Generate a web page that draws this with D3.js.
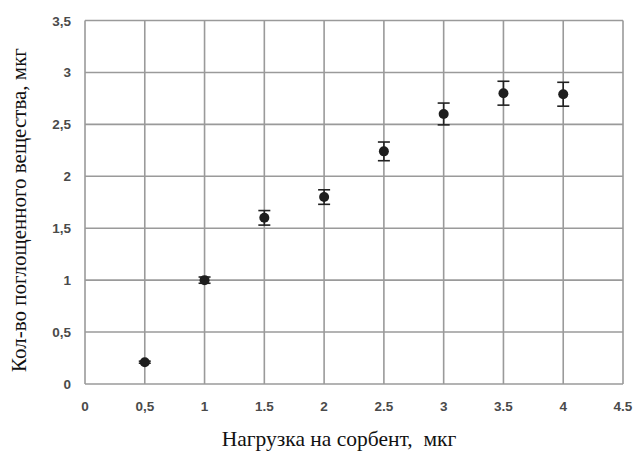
<!DOCTYPE html>
<html>
<head>
<meta charset="utf-8">
<script src="https://cdn.jsdelivr.net/npm/d3@7"></script>
<style>
  body { margin: 0; background: #fff; }
  svg text { font-family: "Liberation Sans", Arial, sans-serif; }
</style>
</head>
<body>
<svg id="chart" width="635" height="451"></svg>
<script>
// ---------------  DATA  ---------------
const loadX = [0.5, 1, 1.5, 2, 2.5, 3, 3.5, 4];
const absorbed = [0.21, 1.0, 1.6, 1.8, 2.24, 2.6, 2.8, 2.79];
const errors = [0.01, 0.03, 0.07, 0.07, 0.09, 0.105, 0.115, 0.115];
const xTicks = [0, 0.5, 1, 1.5, 2, 2.5, 3, 3.5, 4, 4.5];
const xTickLabels = ["0", "0,5", "1", "1.5", "2", "2.5", "3", "3.5", "4", "4.5"];
const yTicks = [0, 0.5, 1, 1.5, 2, 2.5, 3, 3.5];
const yTickLabels = ["0", "0,5", "1", "1,5", "2", "2,5", "3", "3,5"];

// ---------------  INIT  ---------------
const plotLeft = 85, plotRight = 623, plotTop = 20.5, plotBottom = 384;
const svg = d3.select("#chart");

const x = d3.scaleLinear().domain([0, 4.5]).range([plotLeft, plotRight]);
const y = d3.scaleLinear().domain([0, 3.5]).range([plotBottom, plotTop]);

// grid
svg.append("g")
  .selectAll("line")
  .data(xTicks)
  .enter()
  .append("line")
  .attr("x1", d => x(d)).attr("x2", d => x(d))
  .attr("y1", plotTop).attr("y2", plotBottom)
  .attr("stroke", "#9a9a9a").attr("stroke-width", 1.6);

svg.append("g")
  .selectAll("line")
  .data(yTicks)
  .enter()
  .append("line")
  .attr("y1", d => y(d)).attr("y2", d => y(d))
  .attr("x1", plotLeft).attr("x2", plotRight)
  .attr("stroke", "#9a9a9a").attr("stroke-width", 1.6);

// tick labels
svg.append("g")
  .selectAll("text")
  .data(xTicks)
  .enter()
  .append("text")
  .attr("x", d => x(d))
  .attr("y", 411)
  .attr("text-anchor", "middle")
  .attr("font-size", 13.5)
  .attr("font-weight", "bold")
  .attr("fill", "#4a4a4a")
  .text((d, i) => xTickLabels[i]);

svg.append("g")
  .selectAll("text")
  .data(yTicks)
  .enter()
  .append("text")
  .attr("x", 71)
  .attr("y", d => y(d) + 5)
  .attr("text-anchor", "end")
  .attr("font-size", 13.5)
  .attr("font-weight", "bold")
  .attr("fill", "#4a4a4a")
  .text((d, i) => yTickLabels[i]);

// ---------------  ERROR BARS + POINTS  ---------------
const pts = loadX.map((d, i) => ({ x: d, y: absorbed[i], e: errors[i] }));
const eb = svg.append("g").attr("stroke", "#222").attr("stroke-width", 1.6);
pts.forEach(p => {
  eb.append("line")
    .attr("x1", x(p.x)).attr("x2", x(p.x))
    .attr("y1", y(p.y - p.e)).attr("y2", y(p.y + p.e));
  [p.y - p.e, p.y + p.e].forEach(v => {
    eb.append("line")
      .attr("x1", x(p.x) - 6).attr("x2", x(p.x) + 6)
      .attr("y1", y(v)).attr("y2", y(v));
  });
});

svg.append("g")
  .selectAll("circle")
  .data(pts)
  .enter()
  .append("circle")
  .attr("cx", d => x(d.x))
  .attr("cy", d => y(d.y))
  .attr("r", 5)
  .attr("fill", "#1e1e1e");

// ---------------  AXIS TITLES  ---------------
svg.append("text")
  .attr("x", 339)
  .attr("y", 446)
  .attr("text-anchor", "middle")
  .attr("font-size", 21.5)
  .style("font-family", "'Liberation Serif', 'Times New Roman', serif")
  .style("white-space", "pre")
  .attr("fill", "#111")
  .text("Нагрузка на сорбент,  мкг");

svg.append("text")
  .attr("transform", "translate(26,210) rotate(-90)")
  .attr("text-anchor", "middle")
  .attr("font-size", 21)
  .style("font-family", "'Liberation Serif', 'Times New Roman', serif")
  .attr("fill", "#111")
  .text("Кол-во поглощенного вещества, мкг");
</script>
</body>
</html>
